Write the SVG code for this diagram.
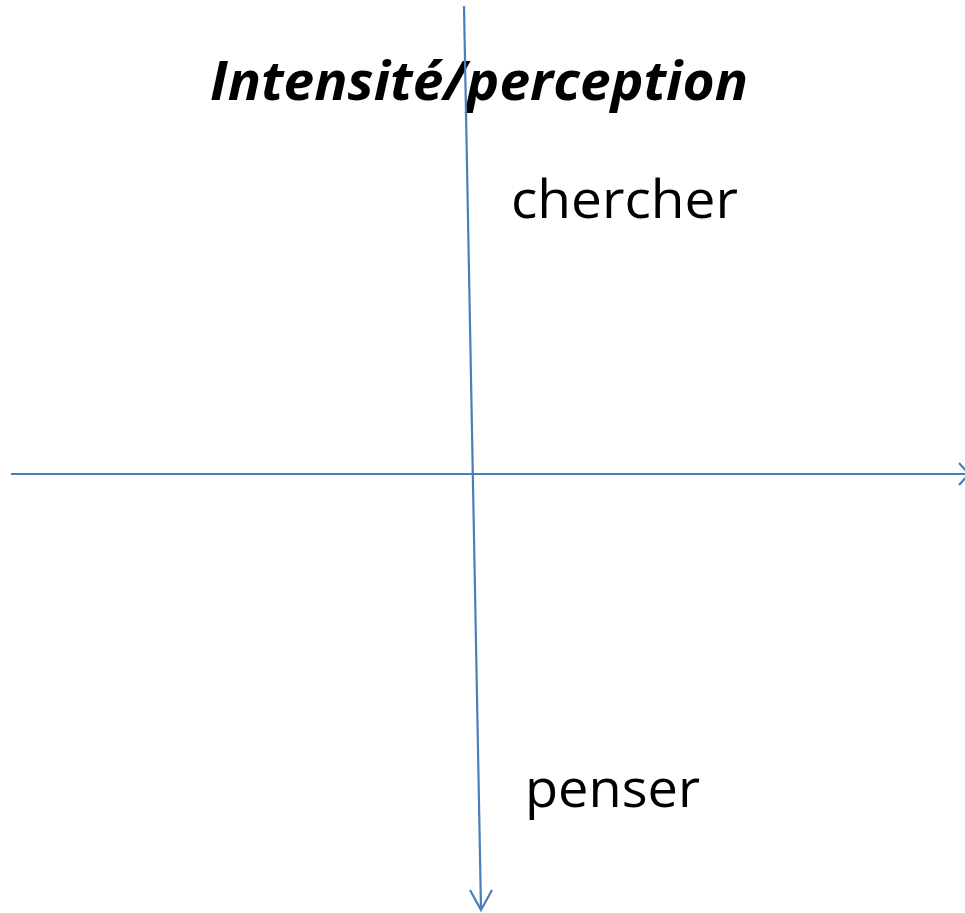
<svg xmlns="http://www.w3.org/2000/svg" width="965" height="913" viewBox="0 0 965 913">
<style>
.ax{stroke:#4a7ebb;stroke-width:2.2;fill:none}
.lbl{font-family:"Open Sans","Liberation Sans",sans-serif;fill:#000}
</style>
<rect width="965" height="913" fill="#fff"/>
<g id="title"><text class="lbl" x="210" y="100" font-size="53" font-weight="bold" font-style="italic" textLength="538" lengthAdjust="spacingAndGlyphs">Intensité/perception</text></g>
<g id="chercher"><text class="lbl" x="511" y="218" font-size="53" textLength="227" lengthAdjust="spacingAndGlyphs">chercher</text></g>
<g id="penser"><text class="lbl" x="525" y="807" font-size="53" textLength="175" lengthAdjust="spacingAndGlyphs">penser</text></g>
<g id="connectors">
<line class="ax" x1="11" y1="474" x2="969" y2="474"/>
<path class="ax" d="M959,463 L969,474 L959,485"/>
<line class="ax" x1="464" y1="6" x2="481" y2="909"/>
<path class="ax" d="M470,890 L481,910 L492,890"/>
</g>
</svg>
